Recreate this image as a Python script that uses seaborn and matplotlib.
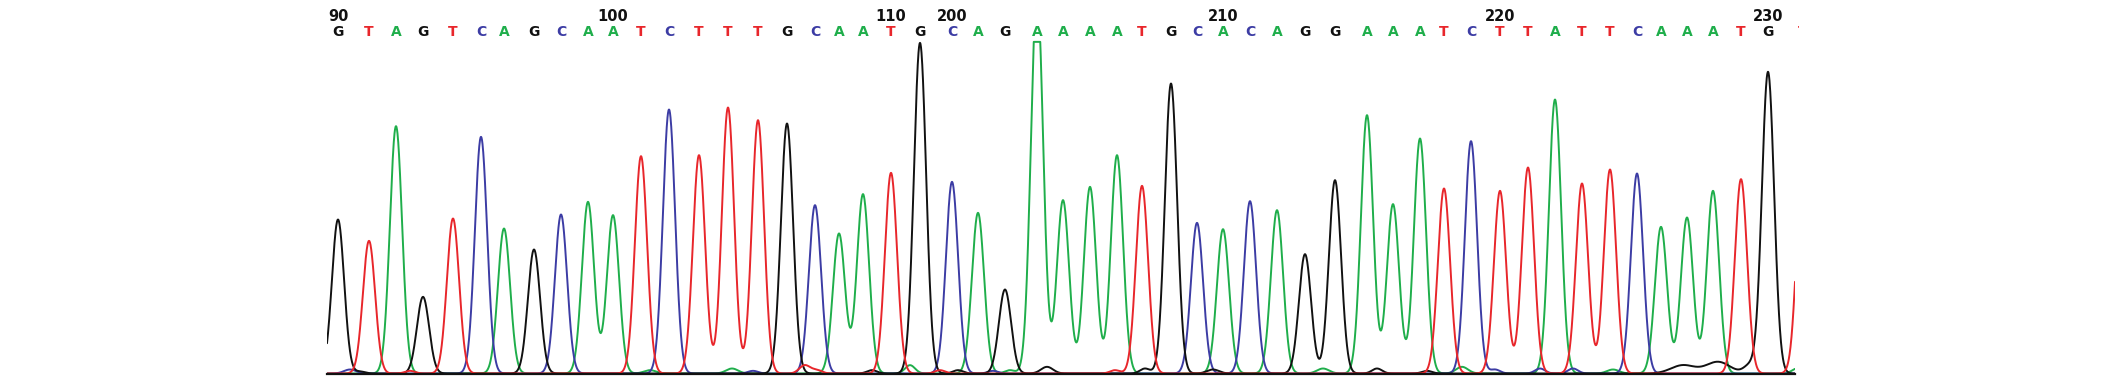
import numpy as np
import pandas as pd
import matplotlib
matplotlib.use("Agg")
import matplotlib.pyplot as plt
import matplotlib.transforms as mtransforms
from matplotlib.patches import Rectangle
import seaborn as sns

# --- Base calls (the last T is cut off by the right edge) ---
bases = list("GTAGTCAGCAATCTTTGCAATG") + list("CAGAAAATGCACAGGAAATCTTATTCAAATG") + ["T"]
base_numbers = list(range(90, 112)) + list(range(200, 232))
labelled_numbers = [90, 100, 110, 200, 210, 220, 230]

# peak centre (scan position) and peak signal for every call
peak_pos = [338, 369, 396, 423, 453, 481, 504, 534, 561, 588, 613, 641, 669, 699,
            728, 758, 787, 815, 839, 863, 891, 920,
            952, 978, 1005, 1037, 1063, 1090, 1117, 1142, 1171, 1197, 1223, 1250,
            1277, 1305, 1335, 1367, 1393, 1420, 1444, 1471, 1500, 1528, 1555, 1582,
            1610, 1637, 1661, 1687, 1713, 1741, 1768,
            1803]
peak_height = [462, 398, 742, 230, 465, 710, 435, 372, 477, 515, 475, 652, 792, 655,
               798, 760, 750, 505, 420, 538, 602, 992,
               575, 482, 252, 1150, 520, 560, 655, 563, 870, 452, 433, 517,
               490, 358, 580, 775, 508, 705, 555, 697, 548, 618, 822, 570,
               612, 600, 440, 468, 548, 583, 905,
               650]

# small bumps along the baseline
noise_base = ["C", "G", "T", "A", "A", "C", "T", "T",
              "T", "G", "A", "T", "G", "C", "A", "G", "T", "G", "G",
              "A", "G", "G", "A", "C", "C", "C", "A", "G", "G", "G", "A"]
noise_pos = [350, 360, 410, 650, 732, 753, 803, 817,
             807, 872, 910, 940, 958, 993, 1010, 1047, 1115, 1145, 1213,
             1323, 1377, 1427, 1462, 1495, 1540, 1573, 1613, 1683, 1718, 1750, 1797]
noise_height = [12, 6, 8, 10, 15, 8, 15, 10,
                12, 10, 25, 10, 10, 8, 10, 20, 10, 15, 12,
                15, 15, 8, 20, 12, 15, 15, 12, 25, 35, 25, 15]
noise_width = [6, 5, 5, 6, 6, 5, 5, 5,
               5, 5, 5, 5, 5, 5, 5, 6, 5, 5, 6,
               6, 5, 5, 6, 5, 5, 5, 6, 12, 12, 6, 5]

PEAK_WIDTH = 6.1
SATURATION = 995
colors = {"G": "#111111", "A": "#1fae4b", "T": "#e8262b", "C": "#3c3ca4"}

X_MIN, X_MAX = 327, 1795
scan = np.arange(X_MIN, X_MAX + 0.25, 0.25)

frames = []
for base in ["A", "C", "G", "T"]:
    signal = np.zeros_like(scan)
    for b, p, h in zip(bases, peak_pos, peak_height):
        if b == base:
            signal += h * np.exp(-0.5 * ((scan - p) / PEAK_WIDTH) ** 2)
    for b, p, h, w in zip(noise_base, noise_pos, noise_height, noise_width):
        if b == base:
            signal += h * np.exp(-0.5 * ((scan - p) / w) ** 2)
    signal = np.minimum(signal, SATURATION)
    frames.append(pd.DataFrame({"scan": scan, "signal": signal, "base": base}))
traces = pd.concat(frames, ignore_index=True)

sns.set_style("white")
W, H = 2126, 389
fig = plt.figure(figsize=(W / 100, H / 100), dpi=100)
ax = fig.add_axes([X_MIN / W, 15.5 / H, (X_MAX - X_MIN) / W, 333.3 / H])

sns.lineplot(data=traces, x="scan", y="signal", hue="base", palette=colors,
             estimator=None, linewidth=1.4, legend=False, ax=ax)

ax.set_xlim(X_MIN, X_MAX)
ax.set_ylim(0, 1000)
ax.set_xticks([])
ax.set_yticks([])
ax.set_xlabel("")
ax.set_ylabel("")
for side in ["top", "left", "right"]:
    ax.spines[side].set_visible(False)
ax.spines["bottom"].set_color("#111111")
ax.spines["bottom"].set_linewidth(1.6)

# base letters and position numbers above the trace
trans = mtransforms.blended_transform_factory(ax.transData, fig.transFigure)
edge = Rectangle((0, 0), 1799, H, transform=mtransforms.IdentityTransform())
for b, n, p in zip(bases, base_numbers, peak_pos):
    t = ax.text(p, 1 - 32.5 / H, b, transform=trans, ha="center", va="center",
                color=colors[b], fontsize=10, fontweight="bold", clip_on=True)
    t.set_clip_path(edge)
    if n in labelled_numbers:
        ax.text(p, 1 - 16.5 / H, str(n), transform=trans, ha="center", va="center",
                color="#111111", fontsize=10.5, fontweight="bold")

fig.savefig("out.png", dpi=100)
